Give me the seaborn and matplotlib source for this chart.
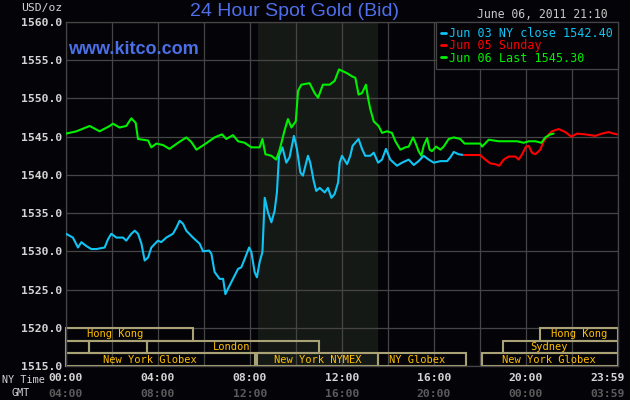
import numpy as np
import pandas as pd
import seaborn as sns
import matplotlib
matplotlib.use("Agg")
import matplotlib.pyplot as plt
import matplotlib.transforms as mtransforms
from matplotlib.patches import Rectangle
from matplotlib.lines import Line2D

# --- data (hour of NY day, USD/oz) ---
jun03_hours = [0.00, 0.30, 0.52, 0.67, 0.88, 1.10, 1.32, 1.68, 1.83, 1.97, 2.19, 2.48, 2.62, 2.84,
               2.99, 3.13, 3.28, 3.42, 3.57, 3.71, 4.00, 4.14, 4.36, 4.65, 4.80, 4.94, 5.09, 5.23,
               5.52, 5.81, 5.96, 6.22, 6.32, 6.46, 6.68, 6.83, 6.93, 7.04, 7.26, 7.48, 7.62, 7.77,
               7.96, 8.06, 8.20, 8.30, 8.42, 8.54, 8.64, 8.78, 8.93, 9.07, 9.17, 9.26, 9.41, 9.58,
               9.72, 9.91, 10.04, 10.19, 10.30, 10.52, 10.62, 10.77, 10.88, 11.03, 11.25, 11.39,
               11.54, 11.68, 11.83, 11.90, 12.00, 12.22, 12.36, 12.46, 12.72, 12.87, 13.01, 13.23,
               13.38, 13.57, 13.74, 13.91, 14.10, 14.39, 14.61, 14.90, 15.12, 15.33, 15.55, 15.77,
               15.99, 16.28, 16.57, 16.71, 16.86, 17.07, 17.29]
jun03_price = [1532.3, 1531.8, 1530.5, 1531.2, 1530.7, 1530.3, 1530.3, 1530.5, 1531.6, 1532.3, 1531.8,
               1531.8, 1531.4, 1532.3, 1532.7, 1532.3, 1531.0, 1528.8, 1529.2, 1530.5, 1531.4, 1531.2,
               1531.8, 1532.3, 1533.1, 1534.0, 1533.6, 1532.7, 1531.8, 1531.0, 1530.0, 1530.1, 1529.7,
               1527.3, 1526.4, 1526.4, 1524.4, 1525.1, 1526.4, 1527.7, 1527.9, 1529.0, 1530.5, 1529.9,
               1527.3, 1526.6, 1528.6, 1529.9, 1537.0, 1535.1, 1533.8, 1535.3, 1537.7, 1542.5, 1543.6,
               1541.6, 1542.3, 1545.1, 1543.4, 1540.3, 1539.9, 1542.5, 1541.6, 1539.2, 1537.9, 1538.3,
               1537.7, 1538.3, 1537.0, 1537.5, 1539.0, 1541.6, 1542.5, 1541.4, 1542.5, 1543.8, 1544.7,
               1543.4, 1542.5, 1542.5, 1542.9, 1541.6, 1542.0, 1543.4, 1542.0, 1541.2, 1541.6, 1542.0,
               1541.3, 1541.8, 1542.5, 1542.0, 1541.6, 1541.8, 1541.8, 1542.3, 1543.0, 1542.7, 1542.6]

jun05_hours = [17.29, 18.01, 18.23, 18.45, 18.67, 18.84, 19.03, 19.25, 19.54, 19.68, 19.83, 20.00,
               20.12, 20.26, 20.41, 20.62, 20.77, 20.99, 21.13, 21.42, 21.71, 21.97, 22.22, 22.58,
               23.01, 23.30, 23.59, 23.81, 23.97]
jun05_price = [1542.6, 1542.6, 1542.0, 1541.5, 1541.4, 1541.2, 1542.0, 1542.4, 1542.4, 1542.0, 1542.7,
               1543.7, 1543.8, 1542.9, 1542.7, 1543.3, 1544.4, 1545.3, 1545.7, 1546.0, 1545.6, 1545.0,
               1545.4, 1545.3, 1545.1, 1545.4, 1545.6, 1545.4, 1545.3]

jun06_hours = [0.00, 0.45, 1.03, 1.46, 1.90, 2.04, 2.33, 2.62, 2.84, 3.03, 3.13, 3.57, 3.71, 3.93,
               4.22, 4.50, 4.87, 5.23, 5.45, 5.67, 6.03, 6.46, 6.78, 6.97, 7.26, 7.48, 7.77, 8.06,
               8.42, 8.54, 8.67, 8.93, 9.14, 9.29, 9.51, 9.65, 9.80, 9.99, 10.09, 10.23, 10.59, 10.81,
               10.96, 11.17, 11.46, 11.68, 11.87, 12.22, 12.43, 12.58, 12.72, 12.87, 13.04, 13.13,
               13.23, 13.38, 13.59, 13.74, 13.96, 14.17, 14.32, 14.54, 14.75, 14.90, 15.09, 15.22,
               15.33, 15.45, 15.55, 15.70, 15.81, 15.91, 16.09, 16.28, 16.42, 16.64, 16.86, 17.14,
               17.33, 18.01, 18.09, 18.38, 18.81, 19.25, 19.61, 19.90, 20.12, 20.41, 20.67, 20.84,
               21.06, 21.20]
jun06_price = [1545.4, 1545.7, 1546.4, 1545.7, 1546.4, 1546.7, 1546.2, 1546.4, 1547.4, 1546.8, 1544.7,
               1544.5, 1543.6, 1544.1, 1543.9, 1543.4, 1544.2, 1544.9, 1544.3, 1543.3, 1544.0, 1544.9,
               1545.3, 1544.7, 1545.2, 1544.4, 1544.2, 1543.6, 1543.6, 1544.7, 1542.7, 1542.5, 1542.0,
               1543.3, 1545.9, 1547.3, 1546.2, 1547.0, 1551.0, 1551.8, 1552.0, 1550.7, 1550.1, 1551.8,
               1551.8, 1552.3, 1553.8, 1553.3, 1552.9, 1552.7, 1550.5, 1550.7, 1551.8, 1550.1, 1548.6,
               1547.0, 1546.4, 1545.5, 1545.7, 1545.5, 1544.4, 1543.3, 1543.6, 1543.7, 1544.9, 1544.0,
               1543.1, 1542.5, 1543.8, 1544.8, 1543.3, 1543.1, 1543.7, 1543.3, 1543.7, 1544.7, 1544.9,
               1544.7, 1544.1, 1544.1, 1543.7, 1544.6, 1544.4, 1544.4, 1544.4, 1544.2, 1544.4, 1544.4,
               1544.2, 1544.9, 1545.3, 1545.4]

series_labels = ["Jun 03 NY close 1542.40", "Jun 05 Sunday", "Jun 06 Last 1545.30"]
series_colors = ["#10c4f4", "#ff0000", "#00f000"]

ny_tick_hours = [0, 4, 8, 12, 16, 20, 24]
ny_tick_labels = ["00:00", "04:00", "08:00", "12:00", "16:00", "20:00", "23:59"]
gmt_tick_labels = ["04:00", "08:00", "12:00", "16:00", "20:00", "00:00", "03:59"]

# trading sessions: row (0 = top), start hour, end hour, label, label centre hour
session_row = [0, 0, 1, 1, 1, 1, 2, 2, 2, 2]
session_start = [0.0, 20.6, 0.0, 1.0, 3.5, 19.0, 0.0, 8.3, 13.55, 18.1]
session_end = [5.5, 24.0, 1.0, 3.5, 11.0, 24.0, 8.2, 13.55, 17.4, 24.0]
session_name = ["Hong Kong", "Hong Kong", "", "", "London", "Sydney",
                "New York Globex", "New York NYMEX", "NY Globex", "New York Globex"]
session_label_at = [2.13, 22.3, 0, 0, 7.2, 21.0, 3.65, 10.94, 15.25, 21.0]
nymex_open, nymex_close = 8.35, 13.58

# --- long-form table for seaborn ---
df = pd.concat([
    pd.DataFrame({"hour": jun03_hours, "price": jun03_price, "series": series_labels[0]}),
    pd.DataFrame({"hour": jun05_hours, "price": jun05_price, "series": series_labels[1]}),
    pd.DataFrame({"hour": jun06_hours, "price": jun06_price, "series": series_labels[2]}),
], ignore_index=True)

bg = "#040308"
grid_col = "#454545"
text_col = "#d4d4d4"
mono = ["DejaVu Sans Mono"]

sns.set_style("dark", {"axes.facecolor": bg, "figure.facecolor": bg,
                       "grid.color": grid_col, "axes.edgecolor": grid_col})
plt.rcParams["font.family"] = mono

fig = plt.figure(figsize=(6.3, 4.0), dpi=100)
ax = fig.add_axes([66 / 630, 1 - 366 / 400, (618 - 66) / 630, (366 - 22) / 400])

# NYMEX pit session shading
ax.axvspan(nymex_open, nymex_close, color="#151915", zorder=0, lw=0)

sns.lineplot(data=df, x="hour", y="price", hue="series", hue_order=series_labels,
             palette=dict(zip(series_labels, series_colors)), estimator=None, sort=False,
             linewidth=1.5, ax=ax, zorder=3)

ax.set_xlim(0, 24)
ax.set_ylim(1515, 1560)
ax.set_xticks(np.arange(0, 25, 2))
ax.set_xticklabels([ny_tick_labels[ny_tick_hours.index(h)] if h in ny_tick_hours else ""
                    for h in range(0, 25, 2)])
ax.set_yticks(np.arange(1515, 1561, 5))
ax.yaxis.set_major_formatter(matplotlib.ticker.FormatStrFormatter("%.1f"))
ax.grid(True, color=grid_col, lw=0.9)
ax.set_axisbelow(True)
for sp in ax.spines.values():
    sp.set_color(grid_col)
    sp.set_linewidth(0.9)
ax.tick_params(axis="both", length=0, colors=text_col, labelsize=8.2)
ax.tick_params(axis="y", pad=3)
ax.tick_params(axis="x", pad=5)
for lab in ax.get_xticklabels() + ax.get_yticklabels():
    lab.set_fontweight("bold")
ax.set_xlabel("")
ax.set_ylabel("")

# last NY label is pulled in so it stays inside the picture
shift = mtransforms.ScaledTranslation(-10 / 100, 0, fig.dpi_scale_trans)
last = ax.get_xticklabels()[-1]
last.set_transform(last.get_transform() + shift)

# GMT row under the NY time row
xt = ax.get_xaxis_transform()
for h, lab in zip(ny_tick_hours, gmt_tick_labels):
    tr = xt + shift if h == 24 else xt
    ax.text(h, -28 / 344, lab, transform=tr, ha="center", va="center", color="#5c5c5c",
            fontsize=8.2, fontweight="bold", clip_on=False)
fig.text(45 / 630, 1 - 380 / 400, "NY Time", ha="right", va="center", color=text_col, fontsize=7.3)
fig.text(20.5 / 630, 1 - 393 / 400, "GMT", ha="center", va="center", color=text_col, fontsize=7.3)

# trading session boxes along the bottom
row_h = 5 / 3
for r, s, e, name, lx in zip(session_row, session_start, session_end, session_name, session_label_at):
    y0 = 1520 - (r + 1) * row_h
    ax.add_patch(Rectangle((s, y0), e - s, row_h, fill=False, edgecolor="#a8a275",
                           lw=1.5, zorder=2, clip_on=False))
    if name:
        ax.text(lx, y0 + row_h / 2, name, ha="center", va="center", color="#ffc000",
                fontsize=7.5, zorder=4)

# legend box
handles = [Line2D([0], [0], color=c, lw=2) for c in series_colors]
leg = ax.legend(handles, series_labels, loc="upper right", borderaxespad=0, frameon=True,
                fancybox=False, facecolor=bg, edgecolor=grid_col, framealpha=1,
                fontsize=8.5, handlelength=0.4, handletextpad=0.3, labelspacing=-0.05,
                borderpad=0.4)
leg.get_frame().set_linewidth(0.9)
leg.set_zorder(6)
for txt, c in zip(leg.get_texts(), series_colors):
    txt.set_color(c)

# header texts
fig.text(294.5 / 630, 1 - 12 / 400, "24 Hour Spot Gold (Bid)", ha="center", va="center",
         color="#4f6fea", fontsize=14, family="Liberation Sans")
fig.text(62 / 630, 1 - 8.5 / 400, "USD/oz", ha="right", va="center", color=text_col, fontsize=8.2)
fig.text(608 / 630, 1 - 15 / 400, "June 06, 2011 21:10", ha="right", va="center",
         color="#c8c8c8", fontsize=8.3)
ax.text(68 / 630, 1 - 49 / 400, "www.kitco.com", transform=fig.transFigure, ha="left",
        va="center", color="#4a6fe6", fontsize=13, fontweight="bold", family="Liberation Sans",
        zorder=5)

fig.savefig("out.png", dpi=100, facecolor=bg)
